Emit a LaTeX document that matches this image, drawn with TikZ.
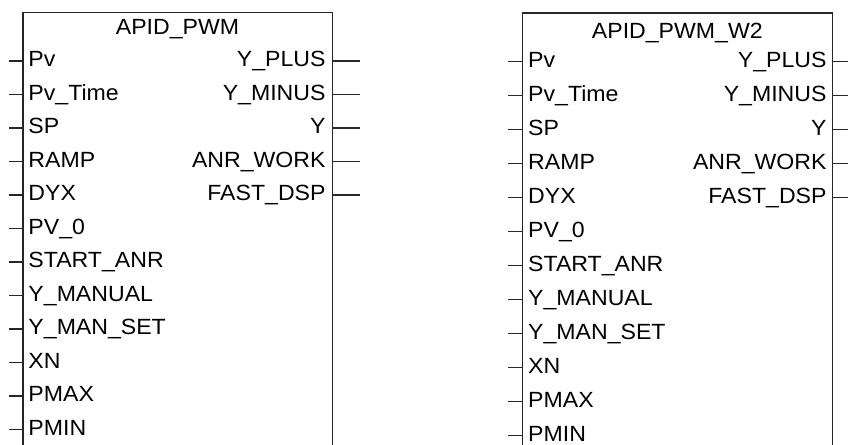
\documentclass[tikz,border=0pt]{standalone}
\usepackage{fontspec}
\setmainfont[FakeStretch=1.05]{Liberation Sans}
\begin{document}
\begin{tikzpicture}[x=1bp,y=-1bp,
  blk/.style={draw=black!85, line width=1.6bp, line join=miter},
  pin/.style={draw=black!85, line width=1.5bp},
  lbl/.style={inner sep=0pt, font=\fontsize{22bp}{26bp}\selectfont},
]
\useasboundingbox (0,0) rectangle (848,445);
\clip (0,0) rectangle (848,445);
% ---------- left block ----------
\coordinate (lbl-tl) at (22.7,12.5);
\coordinate (lbl-tr) at (332.3,12.5);
\coordinate (lbl-bl) at (22.7,470);
\coordinate (lbl-br) at (332.3,470);
\draw[blk] (lbl-bl) -- (lbl-tl) -- (lbl-tr) -- (lbl-br);
\node[lbl, anchor=base] (ltitle) at (177.5,35) {APID\_PWM};
\foreach \n [count=\i from 0] in {Pv,Pv\_Time,SP,RAMP,DYX,PV\_0,START\_ANR,Y\_MANUAL,Y\_MAN\_SET,XN,PMAX,PMIN}{
  \node[lbl, anchor=base west] (lin\i) at (28.3,{61+33.5*\i+5.7}) {\n};
  \coordinate (lip\i) at (22.7,{61+33.5*\i});
  \coordinate (lie\i) at (9,{61+33.5*\i});
  \draw[pin] (lie\i) -- (lip\i);
}
\foreach \n [count=\i from 0] in {Y\_PLUS,Y\_MINUS,Y,ANR\_WORK,FAST\_DSP}{
  \node[lbl, anchor=base east] (lout\i) at (325.7,{61+33.5*\i+5.7}) {\n};
  \coordinate (lop\i) at (332.3,{61+33.5*\i});
  \coordinate (loe\i) at (360,{61+33.5*\i});
  \draw[pin] (lop\i) -- (loe\i);
}
% ---------- right block ----------
\coordinate (rbl-tl) at (522.3,13.3);
\coordinate (rbl-tr) at (832.3,13.3);
\coordinate (rbl-bl) at (522.3,470);
\coordinate (rbl-br) at (832.3,470);
\draw[blk] (rbl-bl) -- (rbl-tl) -- (rbl-tr) -- (rbl-br);
\node[lbl, anchor=base] (rtitle) at (677.3,38.3) {APID\_PWM\_W2};
\foreach \n [count=\i from 0] in {Pv,Pv\_Time,SP,RAMP,DYX,PV\_0,START\_ANR,Y\_MANUAL,Y\_MAN\_SET,XN,PMAX,PMIN}{
  \node[lbl, anchor=base west] (rin\i) at (528,{61.7+34*\i+6}) {\n};
  \coordinate (rip\i) at (522.3,{61.7+34*\i});
  \coordinate (rie\i) at (508,{61.7+34*\i});
  \draw[pin] (rie\i) -- (rip\i);
}
\foreach \n [count=\i from 0] in {Y\_PLUS,Y\_MINUS,Y,ANR\_WORK,FAST\_DSP}{
  \node[lbl, anchor=base east] (rout\i) at (826.7,{61.7+34*\i+6}) {\n};
  \coordinate (rop\i) at (832.3,{61.7+34*\i});
  \coordinate (roe\i) at (860,{61.7+34*\i});
  \draw[pin] (rop\i) -- (roe\i);
}
\end{tikzpicture}
\end{document}
